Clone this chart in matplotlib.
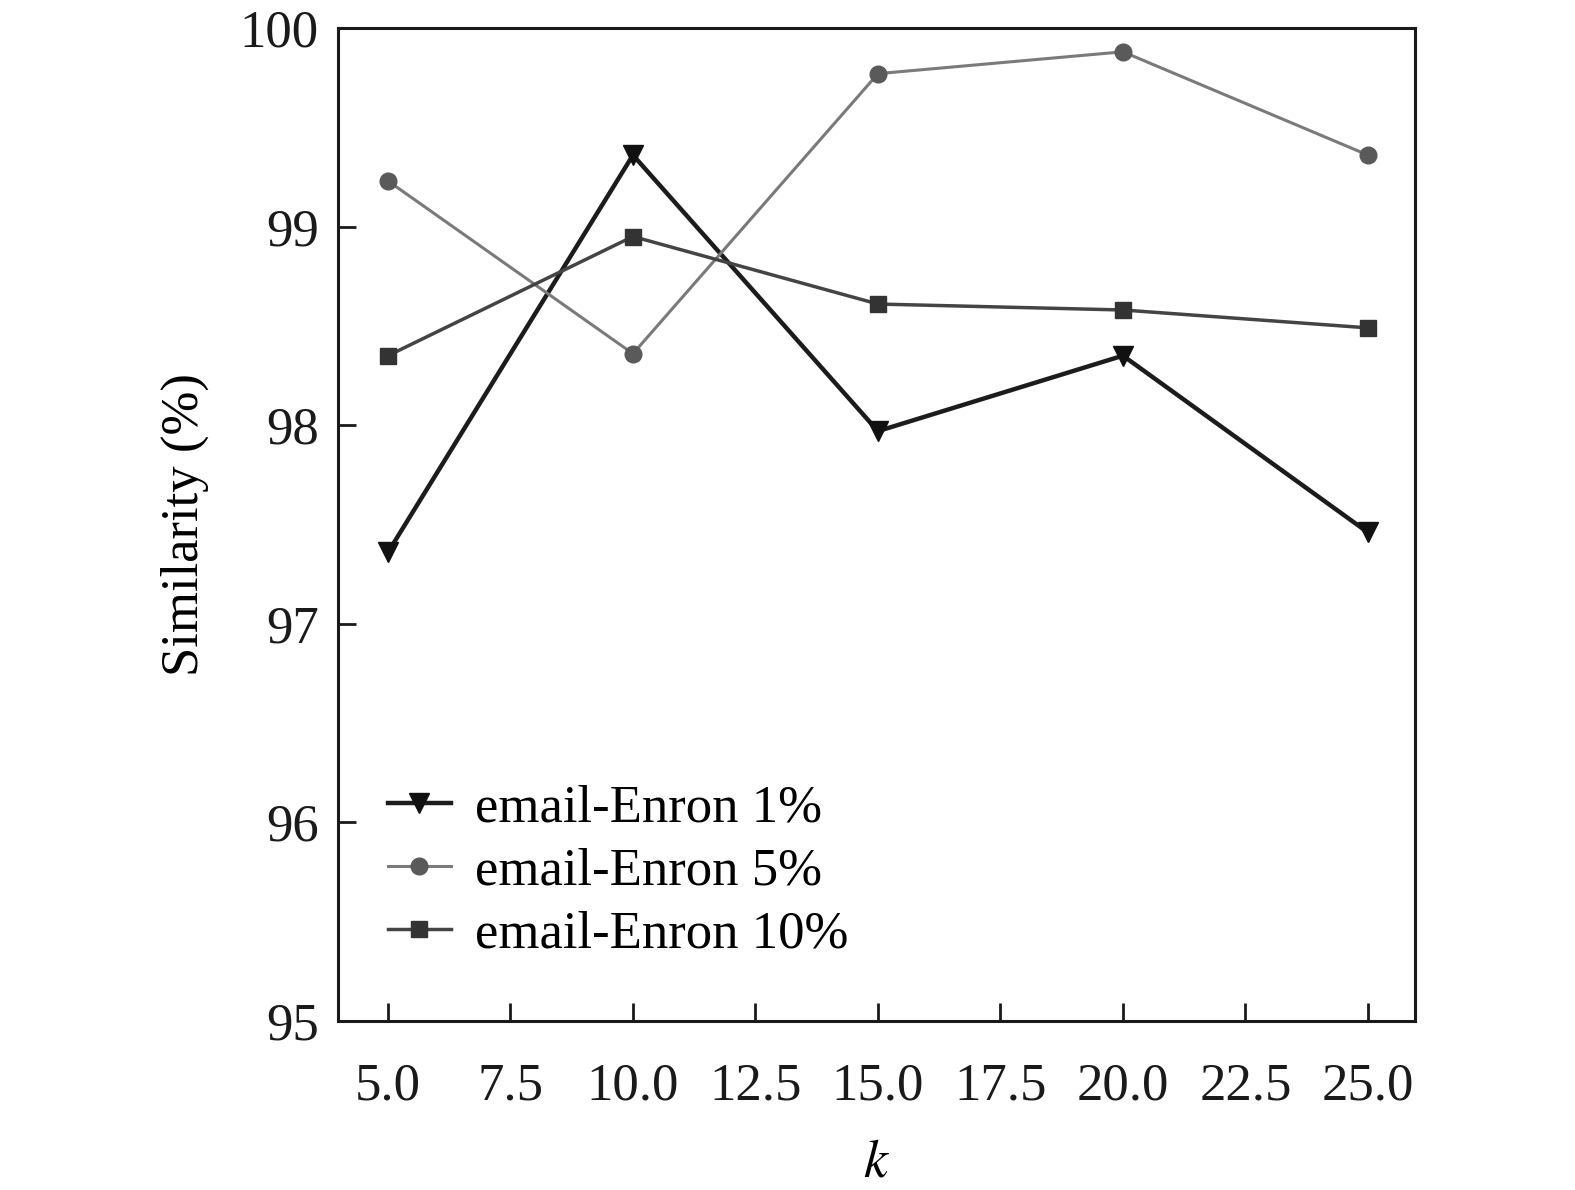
import matplotlib
matplotlib.use("Agg")
import matplotlib.pyplot as plt

k = [5, 10, 15, 20, 25]
sim_1 = [97.36, 99.36, 97.97, 98.35, 97.46]
sim_5 = [99.23, 98.36, 99.77, 99.88, 99.36]
sim_10 = [98.35, 98.95, 98.61, 98.58, 98.49]
labels = ["email-Enron 1%", "email-Enron 5%", "email-Enron 10%"]

plt.rcParams['font.family'] = ['Liberation Serif', 'DejaVu Serif']
plt.rcParams['mathtext.fontset'] = 'stix'

fig = plt.figure(figsize=(15.75, 11.9), dpi=100)
ax = fig.add_axes([0.2146, 0.142, 0.6838, 0.8345])

ax.plot(k, sim_1, color="#1c1c1c", lw=3.2, marker="v", ms=14,
        mfc="#111111", mec="#111111", label=labels[0])
ax.plot(k, sim_5, color="#7a7a7a", lw=2.2, marker="o", ms=12,
        mfc="#5a5a5a", mec="#5a5a5a", label=labels[1])
ax.plot(k, sim_10, color="#444444", lw=2.5, marker="s", ms=12,
        mfc="#333333", mec="#333333", label=labels[2])

ax.set_xlim(3.98, 25.96)
ax.set_ylim(95, 100)
ax.set_xticks([5, 7.5, 10, 12.5, 15, 17.5, 20, 22.5, 25])
ax.set_xticklabels(["5.0", "7.5", "10.0", "12.5", "15.0", "17.5", "20.0", "22.5", "25.0"])
ax.set_yticks([95, 96, 97, 98, 99, 100])

ax.tick_params(direction="in", length=13, width=2, labelsize=38,
               colors="#1a1a1a")
ax.tick_params(axis="x", pad=30)
ax.tick_params(axis="y", pad=14)
for s in ax.spines.values():
    s.set_linewidth(2.2)
    s.set_color("#1a1a1a")

ax.set_xlabel("$k$", fontsize=39, labelpad=20)
ax.set_ylabel("Similarity (%)", fontsize=38, labelpad=22)

ax.legend(loc="upper left", bbox_to_anchor=(0.046, 0.238), frameon=False,
          fontsize=38, handlelength=1.2, handletextpad=0.45,
          labelspacing=0.28, borderpad=0, borderaxespad=0)

fig.savefig("out.png", dpi=100)
